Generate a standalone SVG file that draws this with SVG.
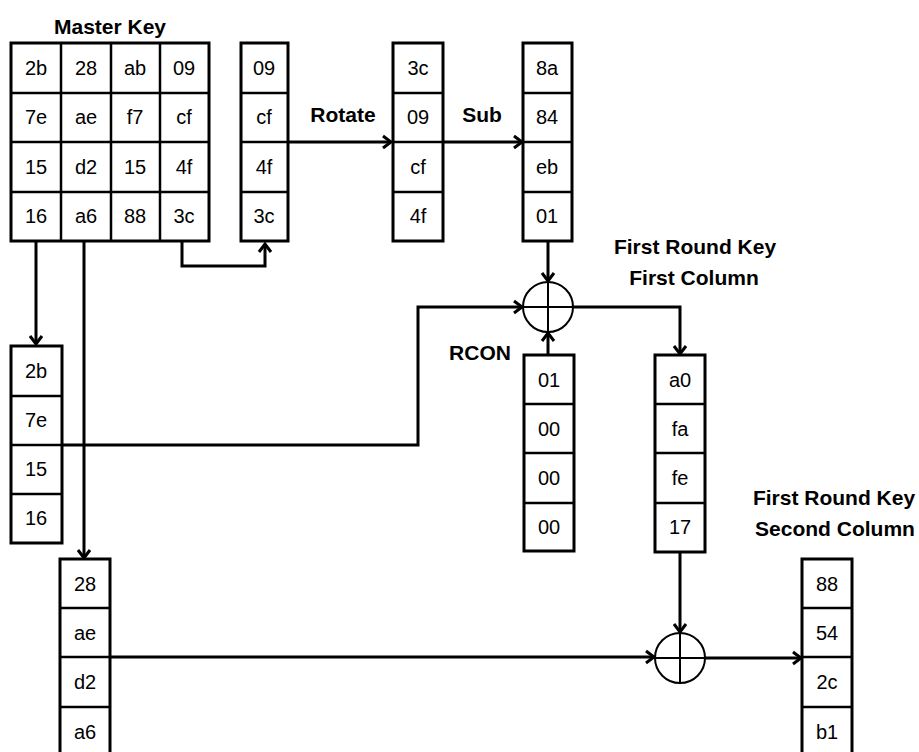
<svg xmlns="http://www.w3.org/2000/svg" width="919" height="752" viewBox="0 0 919 752">
<style>
.box{fill:#fff;stroke:#000;stroke-width:3}
.div{stroke:#000;stroke-width:2.5}
.cell{font-family:"Liberation Sans",Arial,sans-serif;font-size:20px;text-anchor:middle;fill:#000}
.lbl{font-family:"Liberation Sans",Arial,sans-serif;font-size:21px;font-weight:bold;text-anchor:middle;fill:#000}
.conn{fill:none;stroke:#000;stroke-width:3}
.xor{fill:#fff;stroke:#000;stroke-width:2}
.plus{stroke:#000;stroke-width:2}
</style>
<defs>
<marker id="arr" markerUnits="userSpaceOnUse" markerWidth="16" markerHeight="16" refX="10" refY="8" orient="auto">
<path d="M2,2 L10,8 L2,14" fill="none" stroke="#000" stroke-width="3"/>
</marker>
</defs>

<g id="connectors">
<path class="conn" d="M182,241 V266 H265 V244" marker-end="url(#arr)"/>
<path class="conn" d="M288,142 H391" marker-end="url(#arr)"/>
<path class="conn" d="M443,142 H522" marker-end="url(#arr)"/>
<path class="conn" d="M548,242 V281" marker-end="url(#arr)"/>
<path class="conn" d="M36,241 V344" marker-end="url(#arr)"/>
<path class="conn" d="M84,241 V558" marker-end="url(#arr)"/>
<path class="conn" d="M62,445 H418 V307 H522" marker-end="url(#arr)"/>
<path class="conn" d="M548,355 V333" marker-end="url(#arr)"/>
<path class="conn" d="M573,307 H680 V354" marker-end="url(#arr)"/>
<path class="conn" d="M680,552 V632" marker-end="url(#arr)"/>
<path class="conn" d="M110,657 H654" marker-end="url(#arr)"/>
<path class="conn" d="M705,658 H801" marker-end="url(#arr)"/>
</g>

<g id="master-key">
<text class="lbl" x="110" y="34">Master Key</text>
<rect class="box" x="11" y="43" width="198" height="198"/>
<line class="div" x1="61" y1="43" x2="61" y2="241"/>
<line class="div" x1="111" y1="43" x2="111" y2="241"/>
<line class="div" x1="160" y1="43" x2="160" y2="241"/>
<line class="div" x1="11" y1="93" x2="209" y2="93"/>
<line class="div" x1="11" y1="142" x2="209" y2="142"/>
<line class="div" x1="11" y1="192" x2="209" y2="192"/>
<text class="cell" x="36" y="75">2b</text><text class="cell" x="86" y="75">28</text><text class="cell" x="135" y="75">ab</text><text class="cell" x="184" y="75">09</text>
<text class="cell" x="36" y="124">7e</text><text class="cell" x="86" y="124">ae</text><text class="cell" x="135" y="124">f7</text><text class="cell" x="184" y="124">cf</text>
<text class="cell" x="36" y="174">15</text><text class="cell" x="86" y="174">d2</text><text class="cell" x="135" y="174">15</text><text class="cell" x="184" y="174">4f</text>
<text class="cell" x="36" y="223">16</text><text class="cell" x="86" y="223">a6</text><text class="cell" x="135" y="223">88</text><text class="cell" x="184" y="223">3c</text>
</g>

<g id="col-last">
<rect class="box" x="241" y="43" width="47" height="198"/>
<line class="div" x1="241" y1="93" x2="288" y2="93"/>
<line class="div" x1="241" y1="142" x2="288" y2="142"/>
<line class="div" x1="241" y1="192" x2="288" y2="192"/>
<text class="cell" x="264" y="75">09</text><text class="cell" x="264" y="124">cf</text><text class="cell" x="264" y="174">4f</text><text class="cell" x="264" y="223">3c</text>
</g>

<g id="col-rotated">
<rect class="box" x="393" y="43" width="50" height="198"/>
<line class="div" x1="393" y1="93" x2="443" y2="93"/>
<line class="div" x1="393" y1="142" x2="443" y2="142"/>
<line class="div" x1="393" y1="192" x2="443" y2="192"/>
<text class="cell" x="418" y="75">3c</text><text class="cell" x="418" y="124">09</text><text class="cell" x="418" y="174">cf</text><text class="cell" x="418" y="223">4f</text>
</g>

<g id="col-sub">
<rect class="box" x="523" y="43" width="49" height="198"/>
<line class="div" x1="523" y1="93" x2="572" y2="93"/>
<line class="div" x1="523" y1="142" x2="572" y2="142"/>
<line class="div" x1="523" y1="192" x2="572" y2="192"/>
<text class="cell" x="547" y="75">8a</text><text class="cell" x="547" y="124">84</text><text class="cell" x="547" y="174">eb</text><text class="cell" x="547" y="223">01</text>
</g>

<g id="labels-ops">
<text class="lbl" x="343" y="122">Rotate</text>
<text class="lbl" x="482" y="122">Sub</text>
</g>

<g id="col-first">
<rect class="box" x="11" y="346" width="51" height="197"/>
<line class="div" x1="11" y1="396" x2="62" y2="396"/>
<line class="div" x1="11" y1="445" x2="62" y2="445"/>
<line class="div" x1="11" y1="494" x2="62" y2="494"/>
<text class="cell" x="36" y="378">2b</text><text class="cell" x="36" y="427">7e</text><text class="cell" x="36" y="476">15</text><text class="cell" x="36" y="525">16</text>
</g>

<g id="col-second">
<rect class="box" x="60" y="559" width="50" height="198"/>
<line class="div" x1="60" y1="608" x2="110" y2="608"/>
<line class="div" x1="60" y1="657" x2="110" y2="657"/>
<line class="div" x1="60" y1="707" x2="110" y2="707"/>
<text class="cell" x="85" y="591">28</text><text class="cell" x="85" y="640">ae</text><text class="cell" x="85" y="689">d2</text><text class="cell" x="85" y="739">a6</text>
</g>

<g id="xor1">
<circle class="xor" cx="548" cy="307" r="25"/>
<line class="plus" x1="548" y1="282" x2="548" y2="332"/>
<line class="plus" x1="523" y1="307" x2="573" y2="307"/>
</g>

<g id="rcon">
<text class="lbl" x="480" y="360">RCON</text>
<rect class="box" x="524" y="355" width="50" height="196"/>
<line class="div" x1="524" y1="404" x2="574" y2="404"/>
<line class="div" x1="524" y1="453" x2="574" y2="453"/>
<line class="div" x1="524" y1="503" x2="574" y2="503"/>
<text class="cell" x="549" y="387">01</text><text class="cell" x="549" y="436">00</text><text class="cell" x="549" y="485">00</text><text class="cell" x="549" y="534">00</text>
</g>

<g id="round-key-col1">
<text class="lbl" x="695" y="254">First Round Key</text>
<text class="lbl" x="694" y="285">First Column</text>
<rect class="box" x="655" y="355" width="50" height="197"/>
<line class="div" x1="655" y1="404" x2="705" y2="404"/>
<line class="div" x1="655" y1="453" x2="705" y2="453"/>
<line class="div" x1="655" y1="503" x2="705" y2="503"/>
<text class="cell" x="680" y="387">a0</text><text class="cell" x="680" y="436">fa</text><text class="cell" x="680" y="485">fe</text><text class="cell" x="680" y="534">17</text>
</g>

<g id="xor2">
<circle class="xor" cx="680" cy="658" r="25"/>
<line class="plus" x1="680" y1="633" x2="680" y2="683"/>
<line class="plus" x1="655" y1="658" x2="705" y2="658"/>
</g>

<g id="round-key-col2">
<text class="lbl" x="834" y="505">First Round Key</text>
<text class="lbl" x="835" y="536">Second Column</text>
<rect class="box" x="802" y="559" width="50" height="198"/>
<line class="div" x1="802" y1="608" x2="852" y2="608"/>
<line class="div" x1="802" y1="657" x2="852" y2="657"/>
<line class="div" x1="802" y1="707" x2="852" y2="707"/>
<text class="cell" x="827" y="591">88</text><text class="cell" x="827" y="640">54</text><text class="cell" x="827" y="689">2c</text><text class="cell" x="827" y="739">b1</text>
</g>
</svg>
